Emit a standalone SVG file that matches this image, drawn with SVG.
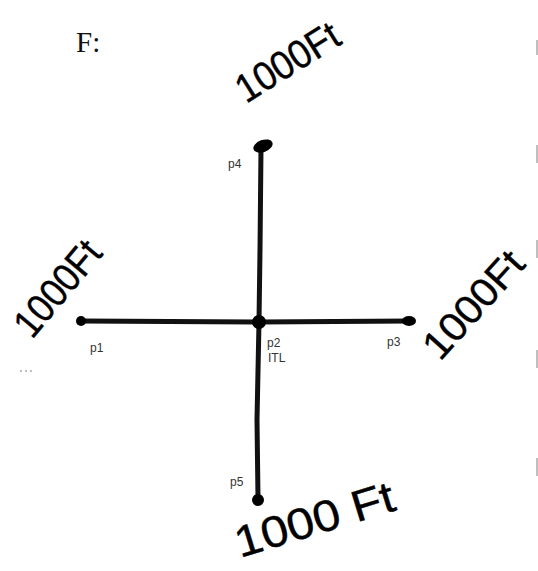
<svg xmlns="http://www.w3.org/2000/svg" width="538" height="571" viewBox="0 0 538 571">
<style>
.hw{font-family:"Liberation Sans","DejaVu Sans",sans-serif;font-size:40px;fill:#000;stroke:#000;stroke-width:0.4;stroke-linejoin:round}
.lbl{font-family:"Liberation Sans","DejaVu Sans",sans-serif;font-size:12px;fill:#333}
.edge{stroke:#111;stroke-width:5;stroke-linecap:round;fill:none}
.pt{fill:#000}
.mark{stroke:#aaa;stroke-width:1.5}
</style>
<rect width="538" height="571" fill="#fff"/>
<text x="76" y="52" font-family="Liberation Serif, serif" font-size="29" fill="#111">F:</text>
<g id="connectors">
<path class="edge" d="M82 321 L259 322 L410 321"/>
<path class="edge" d="M261 148 L260 250 L259 322 L257 420 L258 498"/>
</g>
<g id="p1"><ellipse class="pt" cx="81" cy="321" rx="5" ry="5"/><text class="lbl" x="90" y="352">p1</text></g>
<g id="p2"><circle class="pt" cx="259" cy="322" r="7"/><text class="lbl" x="267" y="347">p2</text><text class="lbl" x="268" y="362">ITL</text></g>
<g id="p3"><ellipse class="pt" cx="409" cy="321" rx="7" ry="5"/><text class="lbl" x="387" y="346">p3</text></g>
<g id="p4"><ellipse class="pt" cx="263" cy="146" rx="10" ry="6" transform="rotate(-20 263 146)"/><text class="lbl" x="228" y="168">p4</text></g>
<g id="p5"><circle class="pt" cx="258" cy="500" r="6"/><text class="lbl" x="230" y="486">p5</text></g>
<text class="hw" transform="translate(246 104) rotate(-32)" textLength="115" lengthAdjust="spacingAndGlyphs">1000Ft</text>
<text class="hw" transform="translate(32 340) rotate(-50)" textLength="112" lengthAdjust="spacingAndGlyphs">1000Ft</text>
<text class="hw" transform="translate(440 362) rotate(-48)" textLength="130" lengthAdjust="spacingAndGlyphs">1000Ft</text>
<text class="hw" style="font-size:44px" transform="translate(240 558) rotate(-17)" textLength="165" lengthAdjust="spacingAndGlyphs">1000 Ft</text>
<g id="scan-marks">
<line class="mark" x1="537" y1="40" x2="537" y2="55"/>
<line class="mark" x1="537" y1="145" x2="537" y2="163"/>
<line class="mark" x1="537" y1="240" x2="537" y2="258"/>
<line class="mark" x1="537" y1="350" x2="537" y2="368"/>
<line class="mark" x1="537" y1="458" x2="537" y2="476"/>
<line class="mark" x1="20" y1="371" x2="34" y2="371" stroke-dasharray="2 3"/>
</g>
</svg>
